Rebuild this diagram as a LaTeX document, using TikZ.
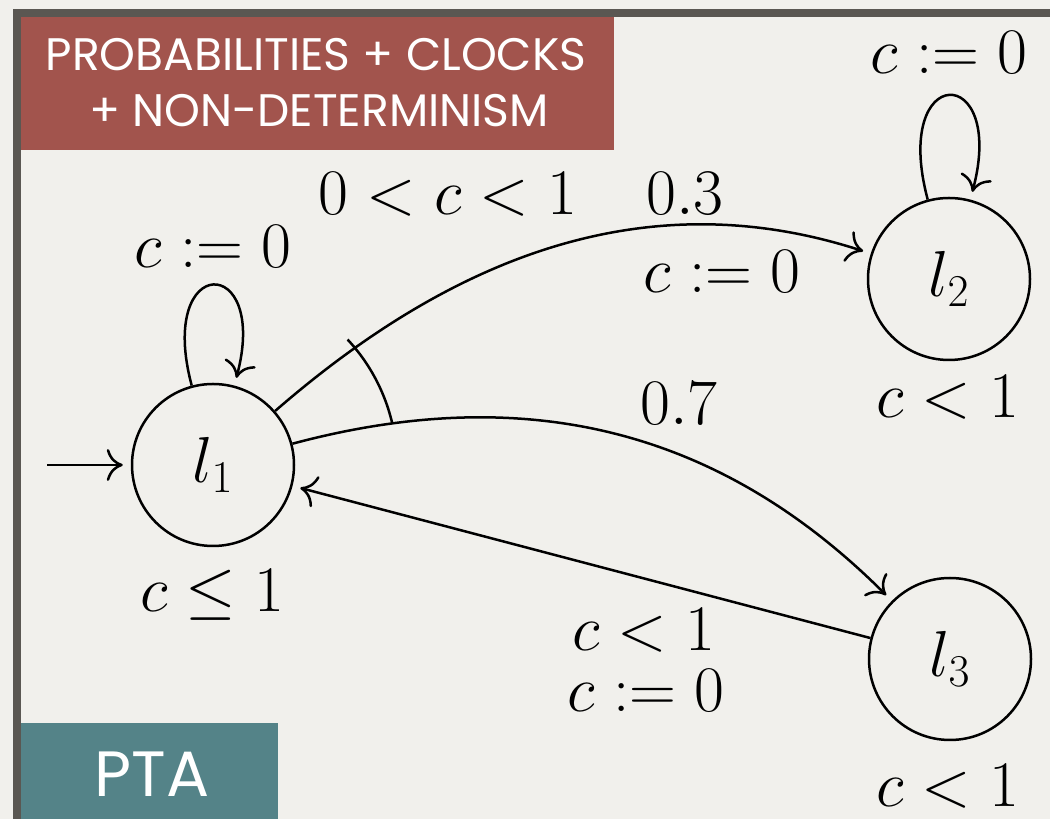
\RequirePackage{fix-cm}
\documentclass[tikz,border=0pt]{standalone}
\usepackage{amsmath}
\usepackage{fontspec}
\newfontfamily\slidefont{Poppins}
\usepackage{tikz}
\usetikzlibrary{arrows.meta}
\usetikzlibrary{positioning}
\definecolor{paper}{HTML}{F1F0EC}
\definecolor{frame}{HTML}{5A5752}
\definecolor{tagred}{HTML}{A2544D}
\definecolor{tagteal}{HTML}{548388}
\tikzstyle{state} = [circle, 
draw=black, 
line width=1.25pt, 
minimum size=81pt, 
inner sep=0pt, 
font=\fontsize{32.5}{36}\selectfont]
\tikzstyle{lbl} = [anchor=base, 
inner sep=0pt, 
font=\fontsize{32.5}{36}\selectfont]
\tikzstyle{tag} = [anchor=base, 
inner sep=0pt, 
text=white, 
font=\slidefont\fontsize{22.8}{28}\selectfont]
\tikzstyle{bigtag} = [tag, font=\slidefont\fontsize{32}{36}\selectfont]
\tikzstyle{arrow} = [line width=1.25pt, ->, 
>={Computer Modern Rightarrow[length=8pt,width=16pt]}, 
shorten >=4pt]

\begin{document}
\begin{tikzpicture}[x=0.5pt, y=0.5pt, node distance=368pt]

        \useasboundingbox (0,0) rectangle (1050,819);
        \fill[paper] (0,0) rectangle (1050,819);
        % slide frame and tags
        \draw[frame, line width=4pt] (17,0) -- (17,806) -- (1050,806);
        \fill[tagred] (21,669) rectangle (614,802);
        \fill[tagteal] (21,0) rectangle (278,96);
        \node (title1) [tag] at (316,748) {PROBABILITIES + CLOCKS};
        \node (title2) [tag] at (319,692) {+ NON-DETERMINISM};
        \node (pta) [bigtag] at (152,22) {PTA};

        \node (l1) [state] at (213,354) 
        {$l_1$};
        \node (l2) [state, right of = l1, yshift = 93pt] 
        {$l_2$};
        \node (l3) [state, right of = l1, xshift = 0.5pt, yshift = -97pt] 
        {$l_3$};
        \coordinate (start) at (47,354);

        \node (loop1) [lbl] at (213,551) {$c := 0$};
        \node (loop2) [lbl] at (949,745) {$c := 0$};
        \node (guard12) [lbl] at (448,604) {$0 < c < 1$};
        \node (prob3) [lbl] at (685,604) {$0.3$};
        \node (reset12) [lbl] at (722,526) {$c := 0$};
        \node (prob7) [lbl] at (679,394) {$0.7$};
        \node (inv1) [lbl] at (212,207) {$c \leq 1$};
        \node (inv2) [lbl] at (948,401) {$c < 1$};
        \node (inv3) [lbl] at (948,12) {$c < 1$};
        \node (guard31) [lbl] at (644,168) {$c < 1$};
        \node (reset31) [lbl] at (646,107) {$c := 0$};

        \draw [arrow] (start) -- (l1);
        \draw [arrow] (l1) to[out=105, in=75, looseness=8.3] (l1);
        \draw [arrow] (l2) to[out=105, in=75, looseness=8.6] (l2);
        \draw [arrow] (l1) to[out=41, in=162, looseness=0.98] (l2);
        \draw [arrow] (l1) to[out=15, in=135] (l3);
        \draw [arrow] (l3) -- (l1);
        \draw [line width=1.25pt] ([shift={(43:92pt)}]l1.center) 
        arc[start angle=43, end angle=13, radius=92pt];

        \end{tikzpicture}
\end{document}
